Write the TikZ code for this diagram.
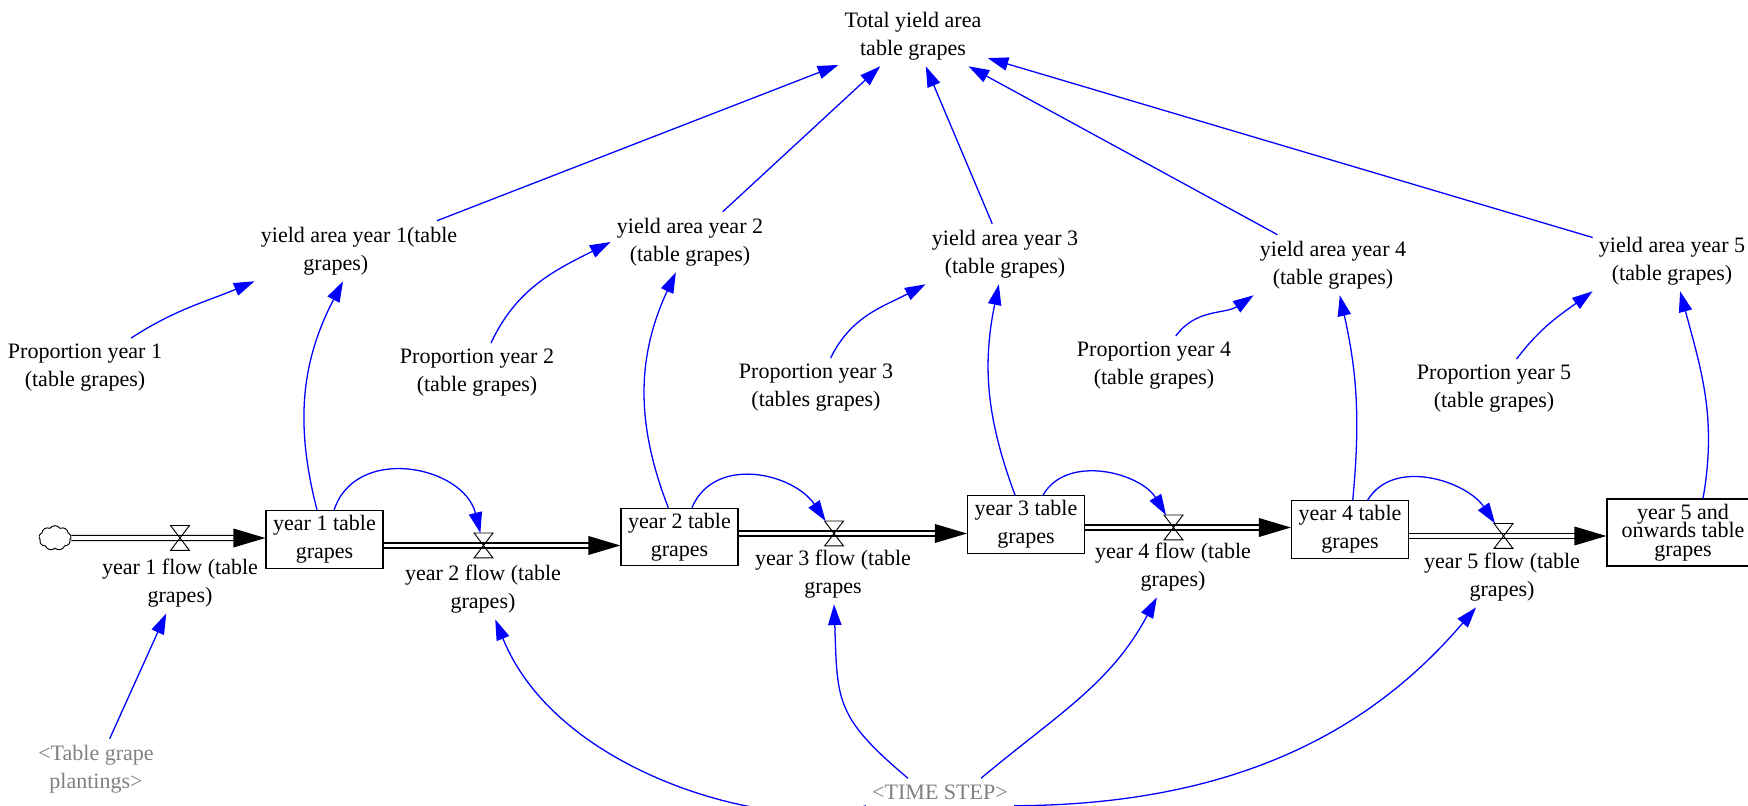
\documentclass[tikz,border=0pt]{standalone}
\usepackage{fontspec}
\setmainfont{Liberation Serif}
\usepackage{tikz}
\usetikzlibrary{arrows.meta,calc,shapes.symbols}

\begin{document}
\begin{tikzpicture}[x=0.015cm, y=0.015cm,
    font=\fontsize{9.4}{11.9}\selectfont,
    var/.style={align=center, inner sep=2.5pt},
    shadow/.style={var, text=gray},
    stock/.style={rectangle, draw, line width=0.5pt, minimum width=1.755cm, minimum height=0.86cm, align=center, inner sep=1pt},
    valve/.style={rectangle, inner sep=0pt, minimum width=0.27cm, minimum height=0.36cm},
    pipe/.style={double, double distance=1.6pt, line width=0.55pt, -{Triangle[length=0.48cm, width=0.28cm]}},
    link/.style={blue, line width=0.55pt, -{Triangle[length=0.31cm, width=0.2cm]}}
]
\useasboundingbox (0,0) rectangle (1748,-806);
\clip (0,0) rectangle (1748,-806);

% Total and yield areas
\node[var] (total) at (913,-36) {Total yield area\\table grapes};
\node[var] (ya1) at (359,-251) {yield area year 1(table\\grapes)\hspace*{2.1em}};
\node[var] (ya2) at (690,-242) {yield area year 2\\(table grapes)};
\node[var] (ya3) at (1005,-254) {yield area year 3\\(table grapes)};
\node[var] (ya4) at (1333,-265) {yield area year 4\\(table grapes)};
\node[var] (ya5) at (1672,-261) {yield area year 5\\(table grapes)};

% Proportions
\node[var] (prop1) at (85,-368) {Proportion year 1\\(table grapes)};
\node[var] (prop2) at (477,-373) {Proportion year 2\\(table grapes)};
\node[var] (prop3) at (816,-388) {Proportion year 3\\(tables grapes)};
\node[var] (prop4) at (1154,-366) {Proportion year 4\\(table grapes)};
\node[var] (prop5) at (1494,-389) {Proportion year 5\\(table grapes)};

% Stocks and flows
\node[cloud, draw, cloud puffs=9, cloud puff arc=110, aspect=1.35, minimum width=0.48cm, minimum height=0.37cm, inner sep=0pt] (cloud) at (55,-538) {};
\node[valve] (v1) at (180,-538) {};
\node[stock] (s1) at (324.5,-539.5) {year 1 table\\grapes};
\node[valve] (v2) at (483.5,-545.5) {};
\node[stock] (s2) at (679.5,-537) {year 2 table\\grapes};
\node[valve] (v3) at (834,-533.5) {};
\node[stock] (s3) at (1026,-524.5) {year 3 table\\grapes};
\node[valve] (v4) at (1173.5,-527.5) {};
\node[stock] (s4) at (1350,-529.5) {year 4 table\\grapes};
\node[valve] (v5) at (1503.5,-536) {};
\node[stock, minimum width=2.28cm, minimum height=1.005cm, font={\fontsize{9.4}{7.9}\selectfont\lineskiplimit=-20pt\relax}] (s5) at (1683,-532.5) {year 5 and\\onwards table\\grapes};

\node[var] (f1) at (180,-583) {year 1 flow (table\\grapes)};
\node[var] (f2) at (483,-589) {year 2 flow (table\\grapes)};
\node[var] (f3) at (833,-574) {year 3 flow (table\\grapes};
\node[var] (f4) at (1173,-567) {year 4 flow (table\\grapes)};
\node[var] (f5) at (1502,-577) {year 5 flow (table\\grapes)};

% Shadow variables
\node[shadow] (plant) at (96,-769) {<Table grape\\plantings>};
\node[shadow] (tstep) at (940,-792) {<TIME STEP>};

% Pipes
\draw[pipe] (cloud) -- (s1.west |- cloud);
\draw[pipe] (s1.east |- v2) -- (s2.west |- v2);
\draw[pipe] (s2.east |- v3) -- (s3.west |- v3);
\draw[pipe] (s3.east |- v4) -- (s4.west |- v4);
\draw[pipe] (s4.east |- v5) -- (s5.west |- v5);
\foreach \vlv in {v1,v2,v3,v4,v5}
  \draw (\vlv.north west) -- (\vlv.north east) -- (\vlv.south west) -- (\vlv.south east) -- cycle;

% Links to total
\draw[link] (ya1) -- (total);
\draw[link] (ya2) -- (total);
\draw[link] (ya3) -- (total);
\draw[link] (ya4) -- (total);
\draw[link] (ya5) -- (total);

% Proportions to yield areas
\draw[link] (prop1) to[out=33, in=203] (ya1.south west);
\draw[link] (prop2) to[out=65, in=207] (ya2.west);
\draw[link] (prop3) to[out=64, in=208] (ya3.south west);
\draw[link] (prop4) to[out=54, in=214] (ya4.south west);
\draw[link] (prop5) to[out=53, in=216] (ya5.south west);

% Stocks to yield areas
\draw[link] (s1) to[bend left=21] (ya1);
\draw[link] (s2) to[bend left=23] (ya2);
\draw[link] (s3) to[bend left=16] (ya3);
\draw[link] (s4) to[bend right=9] (ya4);
\draw[link] ($(s5.north)+(20,0)$) to[out=80, in=-75] (ya5);

% Stocks to valves
\draw[link] (s1) to[out=72, in=104, looseness=1.2] (v2);
\draw[link] (s2) to[out=67, in=124, looseness=1.1] (v3);
\draw[link] (s3) to[out=60, in=121] (v4);
\draw[link] (s4) to[out=59, in=124] (v5);

% Shadow links
\draw[link] (plant) -- (f1);
\draw[link] (tstep.south west) .. controls (790,-835) and (560,-780) .. (f2);
\draw[link] ($(tstep.north)+(-32,0)$) to[out=140, in=-88, looseness=1.3] (f3);
\draw[link] ($(tstep.north)+(41,0)$) to[out=40, in=-118] (f4);
\draw[link] (tstep.south east) .. controls (1250,-805) and (1380,-720) .. (f5);
\end{tikzpicture}
\end{document}
